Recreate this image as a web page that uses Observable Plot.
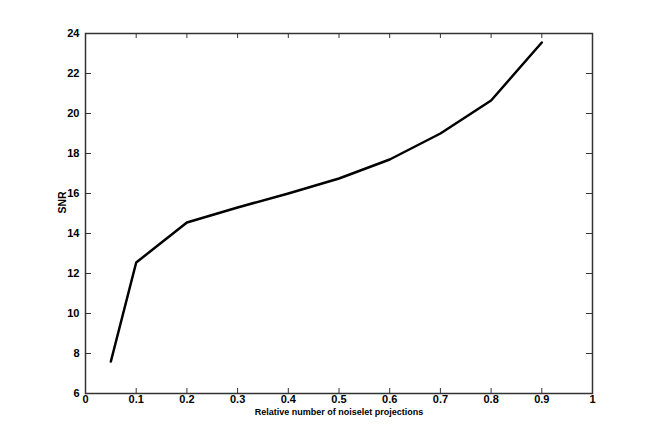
<!DOCTYPE html>
<html><head><meta charset="utf-8">
<script src="https://cdn.jsdelivr.net/npm/d3@7"></script>
<script src="https://cdn.jsdelivr.net/npm/@observablehq/plot@0.6"></script>
<style>body{margin:0;background:#fff}</style>
</head><body><div id="chart"></div>
<script>
const ratio = [0.05, 0.1, 0.2, 0.3, 0.4, 0.5, 0.6, 0.7, 0.8, 0.9];
const snr = [7.6, 12.55, 14.55, 15.3, 16.0, 16.75, 17.7, 19.0, 20.65, 23.55];
const xTicks = [0, 0.1, 0.2, 0.3, 0.4, 0.5, 0.6, 0.7, 0.8, 0.9, 1];
const yTicks = [6, 8, 10, 12, 14, 16, 18, 20, 22, 24];
const xLabel = "Relative number of noiselet projections";
const yLabel = "SNR";

const data = ratio.map((r, i) => ({r, s: snr[i]}));
const axisColor = "#333";
const chart = Plot.plot({
  width: 654, height: 442,
  marginLeft: 85, marginRight: 62, marginTop: 33, marginBottom: 49,
  style: {fontFamily: "'Liberation Sans', Arial, sans-serif", fontWeight: "bold", fontSize: "11px", color: "#000", background: "#fff"},
  x: {domain: [0, 1]},
  y: {domain: [6, 24]},
  marks: [
    Plot.axisX(xTicks, {anchor: "bottom", tickSize: 0, tickPadding: 2, tickFormat: d => String(d), label: null, fontWeight: "bold", fontSize: 11}),
    Plot.axisY(yTicks, {anchor: "left", tickSize: 0, tickPadding: 6, tickFormat: d => String(d), label: null, fontWeight: "bold", fontSize: 11}),
    Plot.tickX(xTicks, {x: d => d, stroke: axisColor, insetTop: 355, strokeWidth: 1}),
    Plot.tickX(xTicks, {x: d => d, stroke: axisColor, insetBottom: 355, strokeWidth: 1}),
    Plot.tickY(yTicks, {y: d => d, stroke: axisColor, insetRight: 501, strokeWidth: 1}),
    Plot.tickY(yTicks, {y: d => d, stroke: axisColor, insetLeft: 501, strokeWidth: 1}),
    Plot.frame({stroke: axisColor, strokeWidth: 1.5}),
    Plot.line(data, {x: "r", y: "s", stroke: "#000", strokeWidth: 2.5}),
    Plot.text([xLabel], {frameAnchor: "bottom", dy: 21, fontSize: 9, fontWeight: "bold", text: d => d}),
    Plot.text([yLabel], {frameAnchor: "left", dx: -23, rotate: -90, fontSize: 10.5, fontWeight: "bold", text: d => d})
  ]
});
document.getElementById("chart").append(chart);
</script></body></html>
